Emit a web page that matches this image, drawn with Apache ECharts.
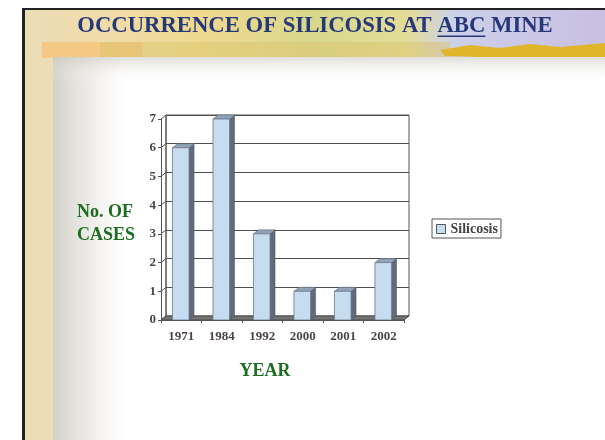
<!DOCTYPE html>
<html>
<head>
	<meta charset="UTF-8">
	<title>Silicosis chart</title>
	<style>
		html, body { margin: 0; padding: 0; background: #fff; }
		#main { width: 605px; height: 440px; }
	</style>
</head>
<body>
	<div id="main"></div>

	<script src="https://cdn.jsdelivr.net/npm/echarts@6/dist/echarts.min.js"></script>
	<script type="text/javascript">

		// data
		var years = ['1971', '1984', '1992', '2000', '2001', '2002'];
		var cases = [6, 7, 3, 1, 1, 2];
		var yTicks = [0, 1, 2, 3, 4, 5, 6, 7];

		var serif = "'Liberation Serif', 'Times New Roman', serif";
		var green = '#1b6e1f';
		var lineCol = '#555555';
		var DX = 5, DY = -4;   // depth of the 3d look

		var chart = echarts.init(document.getElementById('main'));

		// title with underline under "ABC"
		var titleFont = 'bold 22.7px ' + serif;
		var titleA = 'OCCURRENCE OF SILICOSIS AT ';
		var titleB = 'ABC';
		var titleC = ' MINE';
		var cv = document.createElement('canvas').getContext('2d');
		cv.font = titleFont;
		var wA = cv.measureText(titleA).width;
		var wB = cv.measureText(titleB).width;
		var wAll = cv.measureText(titleA + titleB + titleC).width;
		var titleCx = 315;
		var ulStart = titleCx - wAll / 2 + wA;

		function frameItem(params, api) {
			var band = api.size([1, 0])[0];
			var p0 = api.coord([0, 0]);
			var pN = api.coord([years.length - 1, 0]);
			var left = p0[0] - band / 2;
			var right = pN[0] + band / 2;
			var y0 = p0[1];
			var kids = [];
			// left wall edge lines from front ticks to back wall
			for (var i = 0; i < yTicks.length; i++) {
				var yy = api.coord([0, yTicks[i]])[1];
				kids.push({
					type: 'line',
					shape: { x1: left, y1: yy, x2: left + DX, y2: yy + DY },
					style: { stroke: lineCol, lineWidth: 1 }
				});
			}
			var yTop = api.coord([0, yTicks[yTicks.length - 1]])[1];
			kids.push({
				type: 'line',
				shape: { x1: left + DX, y1: yTop + DY, x2: left + DX, y2: y0 + DY },
				style: { stroke: lineCol, lineWidth: 1 }
			});
			// floor slab
			kids.push({
				type: 'polygon',
				shape: { points: [[left, y0], [right, y0], [right + DX, y0 + DY], [left + DX, y0 + DY]] },
				style: { fill: '#747474', stroke: '#4a4a4a', lineWidth: 1 }
			});
			return { type: 'group', children: kids };
		}

		function barItem(params, api) {
			var band = api.size([1, 0])[0];
			var top = api.coord([api.value(0), api.value(1)]);
			var base = api.coord([api.value(0), 0]);
			var w = band * 0.41;
			var x0 = top[0] - w / 2 - 0.5;
			var x1 = x0 + w;
			var yt = top[1];
			var yb = base[1];
			return {
				type: 'group',
				children: [
					{
						type: 'polygon',
						shape: { points: [[x1, yb], [x1, yt], [x1 + DX, yt + DY], [x1 + DX, yb + DY]] },
						style: { fill: '#5f6b78', stroke: '#4a535c', lineWidth: 0.5 }
					},
					{
						type: 'polygon',
						shape: { points: [[x0, yt], [x1, yt], [x1 + DX, yt + DY], [x0 + DX, yt + DY]] },
						style: { fill: '#8fa4b8', stroke: '#5a6570', lineWidth: 0.5 }
					},
					{
						type: 'rect',
						shape: { x: x0, y: yt, width: w, height: yb - yt },
						style: { fill: '#c6dcf0', stroke: '#6e7680', lineWidth: 0.8 }
					}
				]
			};
		}

		var option = {
			animation: false,
			backgroundColor: '#ffffff',
			graphic: [
				// parchment frame
				{ type: 'rect', z: -20, shape: { x: 25, y: 10, width: 580, height: 430 }, style: { fill: '#eddcb6' } },
				// banner
				{ type: 'rect', z: -19, shape: { x: 25, y: 10, width: 580, height: 47 },
					style: { fill: new echarts.graphic.LinearGradient(0, 0, 1, 0, [
						{ offset: 0, color: '#ecdcb6' },
						{ offset: 0.14, color: '#f0dcaa' },
						{ offset: 0.3, color: '#efd98f' },
						{ offset: 0.5, color: '#d8d88c' },
						{ offset: 0.66, color: '#e3dc98' },
						{ offset: 0.74, color: '#ccd0ea' },
						{ offset: 1, color: '#c9bfe0' }
					]) } },
				{ type: 'rect', z: -18, shape: { x: 42, y: 42, width: 100, height: 16 }, style: { fill: '#f5c67d', opacity: 0.85 } },
				{ type: 'rect', z: -18, shape: { x: 100, y: 42, width: 350, height: 16 }, style: { fill: '#d9c46a', opacity: 0.45 } },
				{ type: 'polygon', z: -17,
					shape: { points: [[440, 50], [470, 45], [500, 48], [530, 44], [560, 47], [605, 43], [605, 58], [560, 57], [520, 60], [480, 57], [445, 56]] },
					style: { fill: '#e0b52a' } },
				// white panel with soft left shading
				{ type: 'rect', z: -16, shape: { x: 53, y: 57, width: 552, height: 383 },
					style: { fill: new echarts.graphic.LinearGradient(0, 0, 1, 0, [
						{ offset: 0, color: '#d3d0c8' },
						{ offset: 0.04, color: '#e4e2dc' },
						{ offset: 0.09, color: '#f6f5f3' },
						{ offset: 0.13, color: '#ffffff' },
						{ offset: 1, color: '#ffffff' }
					]) } },
				{ type: 'rect', z: -15, shape: { x: 53, y: 57, width: 552, height: 26 },
					style: { fill: new echarts.graphic.LinearGradient(0, 0, 0, 1, [
						{ offset: 0, color: 'rgba(200,196,186,0.55)' },
						{ offset: 1, color: 'rgba(255,255,255,0)' }
					]) } },
				// black border
				{ type: 'rect', z: -14, shape: { x: 22, y: 8, width: 583, height: 2 }, style: { fill: '#222' } },
				{ type: 'rect', z: -14, shape: { x: 22, y: 8, width: 3, height: 432 }, style: { fill: '#222' } },
				// title
				{ type: 'text', z: 10, x: titleCx, y: 26,
					style: { text: titleA + titleB + titleC, font: titleFont, fill: '#26387a', align: 'center', verticalAlign: 'middle' } },
				{ type: 'rect', z: 10, shape: { x: ulStart, y: 35.5, width: wB, height: 1.5 }, style: { fill: '#26387a' } },
				// axis names
				{ type: 'text', z: 10, x: 77, y: 224,
					style: { text: 'No. OF\nCASES', font: 'bold 18px ' + serif, fill: green, align: 'left', verticalAlign: 'middle', lineHeight: 23 } },
				{ type: 'text', z: 10, x: 265, y: 371,
					style: { text: 'YEAR', font: 'bold 18px ' + serif, fill: green, align: 'center', verticalAlign: 'middle' } }
			],
			legend: {
				data: ['Silicosis'],
				left: 432,
				top: 219,
				orient: 'vertical',
				backgroundColor: '#ffffff',
				borderColor: lineCol,
				borderWidth: 1,
				padding: [3, 3, 2, 4],
				itemWidth: 9,
				itemHeight: 9,
				itemGap: 4,
				icon: 'rect',
				itemStyle: { borderColor: lineCol, borderWidth: 1 },
				textStyle: { fontFamily: serif, fontWeight: 'bold', fontSize: 14, color: '#444' }
			},
			grid: [
				{ left: 161, right: 201, top: 119, bottom: 120 },
				{ left: 161 + DX, right: 201 - DX, top: 119 + DY, bottom: 120 - DY,
					show: true, borderColor: lineCol, borderWidth: 1, z: 0 }
			],
			xAxis: [
				{
					gridIndex: 0,
					type: 'category',
					data: years,
					axisLine: { show: true, lineStyle: { color: lineCol } },
					axisTick: { show: true, length: 3, lineStyle: { color: lineCol } },
					axisLabel: { margin: 10, fontFamily: serif, fontWeight: 'bold', fontSize: 13, color: '#4d4545' },
					z: 5
				},
				{
					gridIndex: 1,
					type: 'category',
					data: years,
					show: false
				}
			],
			yAxis: [
				{
					gridIndex: 0,
					type: 'value',
					min: 0,
					max: 7,
					interval: 1,
					axisLine: { show: true, lineStyle: { color: lineCol } },
					axisTick: { show: true, length: 3, lineStyle: { color: lineCol } },
					axisLabel: { margin: 5, fontFamily: serif, fontWeight: 'bold', fontSize: 13, color: '#4d4545' },
					splitLine: { show: false }
				},
				{
					gridIndex: 1,
					type: 'value',
					min: 0,
					max: 7,
					interval: 1,
					axisLine: { show: false },
					axisTick: { show: false },
					axisLabel: { show: false },
					splitLine: { show: true, lineStyle: { color: '#4f4f4f', width: 1 } }
				}
			],
			series: [
				{
					type: 'custom',
					name: 'frame',
					xAxisIndex: 0,
					yAxisIndex: 0,
					renderItem: frameItem,
					data: [[0, 0]],
					z: 3,
					silent: true
				},
				{
					type: 'custom',
					name: 'Silicosis',
					xAxisIndex: 0,
					yAxisIndex: 0,
					renderItem: barItem,
					itemStyle: { color: '#c6dcf0' },
					encode: { x: 0, y: 1 },
					data: cases.map(function (v, i) { return [i, v]; }),
					z: 4
				}
			]
		};

		chart.setOption(option);

	</script>
</body>
</html>
